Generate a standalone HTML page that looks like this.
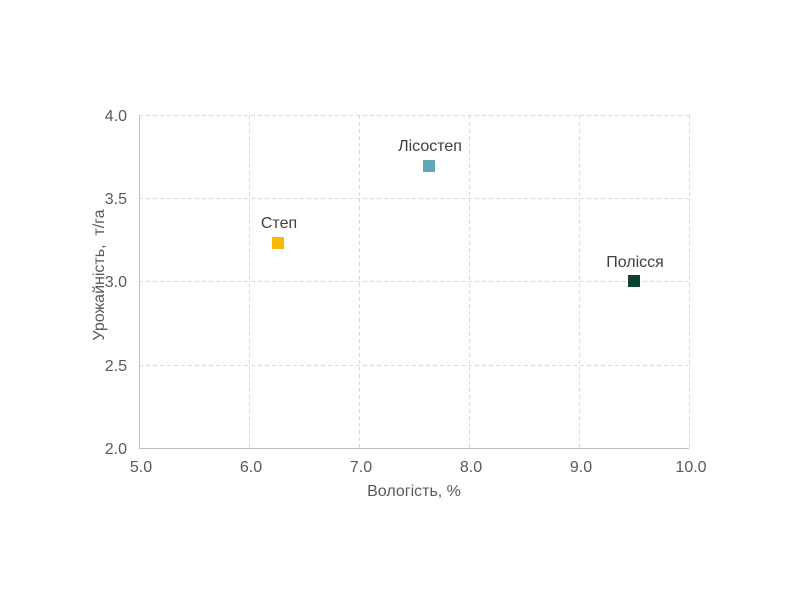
<!DOCTYPE html>
<html><head><meta charset="utf-8"><style>body{margin:0;background:#fff}svg{display:block}</style></head>
<body>
<svg width="800" height="600" xmlns="http://www.w3.org/2000/svg" font-family="Liberation Sans, sans-serif">
<rect width="800" height="600" fill="#fff"/>
<g stroke="#d9d9d9" stroke-width="1" stroke-dasharray="4,3" fill="none">
<line x1="139" y1="115.5" x2="689" y2="115.5"/>
<line x1="139" y1="198.5" x2="689" y2="198.5"/>
<line x1="139" y1="281.5" x2="689" y2="281.5"/>
<line x1="139" y1="365.5" x2="689" y2="365.5"/>
<line x1="249.5" y1="115" x2="249.5" y2="448"/>
<line x1="359.5" y1="115" x2="359.5" y2="448"/>
<line x1="469.5" y1="115" x2="469.5" y2="448"/>
<line x1="579.5" y1="115" x2="579.5" y2="448"/>
<line x1="689.5" y1="115" x2="689.5" y2="448"/>
</g>
<line x1="139.5" y1="115" x2="139.5" y2="448" stroke="#bfbfbf"/>
<line x1="139" y1="448.5" x2="689" y2="448.5" stroke="#bfbfbf"/>
<g fill="#595959" font-size="16" text-anchor="end">
<text x="127" y="121">4.0</text>
<text x="127" y="204">3.5</text>
<text x="127" y="287">3.0</text>
<text x="127" y="371">2.5</text>
<text x="127" y="454">2.0</text>
</g>
<g fill="#595959" font-size="16" text-anchor="middle">
<text x="141" y="472">5.0</text>
<text x="251" y="472">6.0</text>
<text x="361" y="472">7.0</text>
<text x="471" y="472">8.0</text>
<text x="581" y="472">9.0</text>
<text x="691" y="472">10.0</text>
<text x="414" y="496">Вологість, %</text>
<text transform="translate(104,275) rotate(-90)" xml:space="preserve">Урожайність,  т/га</text>
</g>
<rect x="272" y="237" width="12" height="12" fill="#FBB800"/>
<rect x="423" y="160" width="12" height="12" fill="#62A7B8"/>
<rect x="628" y="275" width="12" height="12" fill="#0B4230"/>
<g fill="#404040" font-size="16" text-anchor="middle">
<text x="279" y="228">Степ</text>
<text x="430" y="151">Лісостеп</text>
<text x="635" y="267">Полісся</text>
</g>
</svg>
</body></html>
